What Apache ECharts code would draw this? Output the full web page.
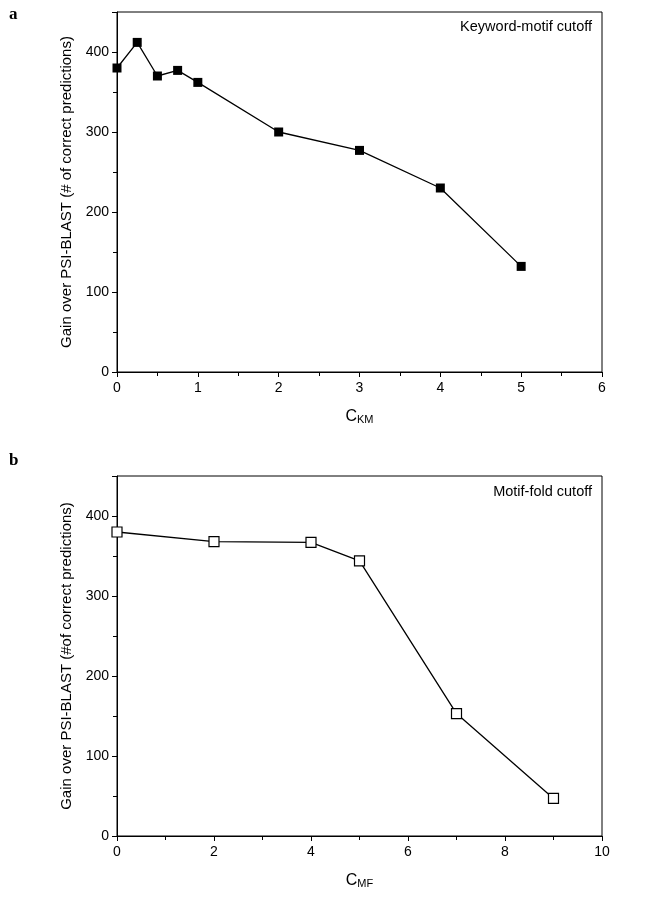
<!DOCTYPE html>
<html>
<head>
<meta charset="utf-8">
<script src="https://cdn.jsdelivr.net/npm/echarts@6/dist/echarts.min.js"></script>
<style>html,body{margin:0;padding:0;background:#fff}#c{width:649px;height:900px}</style>
</head>
<body>
<div id="c"></div>
<script>
// Panel a: keyword-motif cutoff
const ckmValues = [0, 0.25, 0.5, 0.75, 1, 2, 3, 4, 5];
const gainKM = [380, 412, 370, 377, 362, 300, 277, 230, 132];
// Panel b: motif-fold cutoff
const cmfValues = [0, 2, 4, 5, 7, 9];
const gainMF = [380, 368, 367, 344, 153, 47];

const yTicks = [0, 100, 200, 300, 400];
const xTicksA = [0, 1, 2, 3, 4, 5, 6];
const xTicksB = [0, 2, 4, 6, 8, 10];

const titleA = 'Keyword-motif cutoff';
const titleB = 'Motif-fold cutoff';
const yNameA = 'Gain over PSI-BLAST (# of correct predictions)';
const yNameB = 'Gain over PSI-BLAST (#of correct predictions)';

const FONT = 'Liberation Sans, Arial, sans-serif';

function pairs(xs, ys){ return xs.map((x,i)=>[x, ys[i]]); }

function xAxisDef(gridIndex, ticks, minorSplit, sub){
  return {
    type:'value', gridIndex, min: ticks[0], max: ticks[ticks.length-1],
    interval: ticks[1]-ticks[0],
    axisLine:{show:true, onZero:false, lineStyle:{color:'#000', width:1}},
    axisTick:{show:true, length:5, inside:false, lineStyle:{color:'#000'}},
    minorTick:{show:true, splitNumber:minorSplit, length:4, lineStyle:{color:'#000'}},
    splitLine:{show:false},
    axisLabel:{color:'#000', fontSize:14, fontFamily:FONT, margin:9},
    name:'{c|C}{s|' + sub + '}', nameLocation:'middle', nameGap:33,
    nameTextStyle:{rich:{
      c:{fontSize:16, fontFamily:FONT, color:'#000', verticalAlign:'bottom', lineHeight:20},
      s:{fontSize:11, fontFamily:FONT, color:'#000', verticalAlign:'bottom', lineHeight:14}
    }}
  };
}
function yAxisDef(gridIndex, name){
  return {
    type:'value', gridIndex, min:0, max:450, interval:100,
    axisLine:{show:true, lineStyle:{color:'#000', width:1}},
    axisTick:{show:true, length:5, lineStyle:{color:'#000'}},
    minorTick:{show:true, splitNumber:2, length:4, lineStyle:{color:'#000'}},
    splitLine:{show:false},
    axisLabel:{color:'#000', fontSize:14, fontFamily:FONT, margin:8,
      formatter: v => yTicks.indexOf(v) >= 0 ? String(v) : ''},
    name:name, nameLocation:'middle', nameGap:36, nameRotate:90,
    nameTextStyle:{fontSize:15, fontFamily:FONT, color:'#000'}
  };
}

const chart = echarts.init(document.getElementById('c'), null, {renderer:'canvas'});
chart.setOption({
  backgroundColor:'#fff',
  animation:false,
  grid:[
    {left:117, right:47, top:12, height:360, show:true, borderColor:'#000', borderWidth:1, containLabel:false},
    {left:117, right:47, top:476, height:360, show:true, borderColor:'#000', borderWidth:1, containLabel:false}
  ],
  xAxis:[ xAxisDef(0, xTicksA, 2, 'KM'), xAxisDef(1, xTicksB, 2, 'MF') ],
  yAxis:[ yAxisDef(0, yNameA), yAxisDef(1, yNameB) ],
  series:[
    {type:'line', xAxisIndex:0, yAxisIndex:0, data:pairs(ckmValues, gainKM),
     symbol:'rect', symbolSize:9, showAllSymbol:true,
     lineStyle:{color:'#000', width:1.3}, itemStyle:{color:'#000', borderColor:'#000', borderWidth:0}},
    {type:'line', xAxisIndex:1, yAxisIndex:1, data:pairs(cmfValues, gainMF),
     symbol:'rect', symbolSize:10, showAllSymbol:true,
     lineStyle:{color:'#000', width:1.3}, itemStyle:{color:'#fff', borderColor:'#000', borderWidth:1.2}}
  ],
  graphic:[
    {type:'text', left:9, top:6, style:{text:'a', font:'bold 17px "Liberation Serif", "DejaVu Serif", serif', fill:'#000'}},
    {type:'text', left:9, top:452, style:{text:'b', font:'bold 17px "Liberation Serif", "DejaVu Serif", serif', fill:'#000'}},
    {type:'text', right:57, top:19, style:{text:titleA, font:'14.5px ' + FONT, fill:'#000'}},
    {type:'text', right:57, top:484, style:{text:titleB, font:'14.5px ' + FONT, fill:'#000'}}
  ]
});
</script>
</body>
</html>
